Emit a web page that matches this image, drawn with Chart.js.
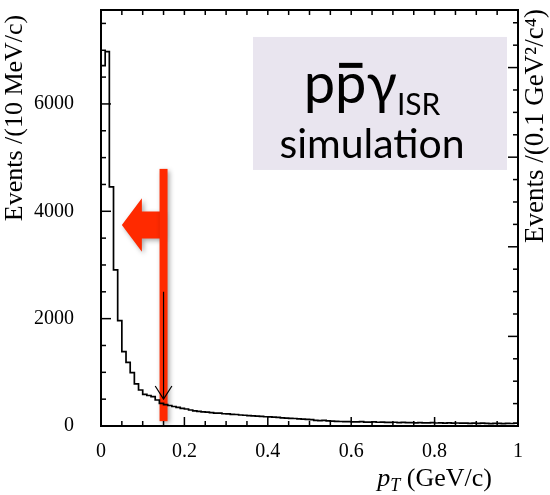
<!DOCTYPE html>
<html>
<head>
<meta charset="utf-8">
<script src="https://cdn.jsdelivr.net/npm/chart.js@4.4.1/dist/chart.umd.min.js"></script>
<style>
  html, body { margin: 0; padding: 0; background: #fff; }
  #wrap { width: 550px; height: 495px; }
</style>
</head>
<body>
<div id="wrap"><canvas id="ptChart" width="550" height="495"></canvas></div>
<script>
'use strict';

// ── Data ─────────────────────────────────────────────────────────────────────
// pT histogram, 10 MeV/c bins starting at 0
var binStart = 0;
var binWidth = 0.01;
var counts = [
  6713, 6974, 4453, 2907, 1962, 1384, 1187, 994, 783, 671,
  591, 568, 546, 484, 423, 400, 382, 363, 348, 330,
  317, 298, 280, 272, 265, 258, 250, 240, 238, 228,
  225, 218, 214, 205, 200, 193, 188, 184, 180, 172,
  170, 164, 160, 152, 148, 143, 140, 134, 128, 122,
  118, 104, 100, 104, 96, 92, 88, 84, 80, 82,
  78, 76, 80, 74, 72, 75, 70, 72, 68, 66,
  70, 64, 66, 62, 64, 60, 63, 60, 58, 62,
  56, 58, 55, 60, 54, 56, 52, 55, 50, 53,
  48, 52, 50, 46, 50, 48, 45, 50, 47, 52
];

// axis ranges and tick labels
var xRange = [0, 1];
var yRange = [0, 7750];
var y2Range = [0, 18.57];
var xTickLabels = [0, 0.2, 0.4, 0.6, 0.8, 1];
var yTickLabels = [0, 2000, 4000, 6000];

// annotations, in data units
var ptCut = 0.15;
var cutBarY = [90, 4790];
var leftArrow = { tipX: 0.05, headX: 0.098, y: 3745, headHalf: 500, shaftHalf: 250 };
var cutArrow = { fromY: 2500, toY: 500, armX: 0.02, armY: 245 };
var labelBox = { x: [0.3645, 0.9736], y: [4770, 7248] };
var labelLines = { x: 0.65, y1: 6020, y2: 4990 };

var SERIF = '"Liberation Serif", "Times New Roman", serif';
var SANS = 'Lato, "Open Sans", "Noto Sans", sans-serif';
var RED = 'rgb(255,42,0)';

// ── Histogram points (left bin edges + closing edge) ─────────────────────────
var histPoints = counts.map(function (v, i) {
  return { x: binStart + i * binWidth, y: v };
});
histPoints.push({ x: binStart + counts.length * binWidth, y: counts[counts.length - 1] });

// ── Frame + inward ticks on all four sides ───────────────────────────────────
var frameTicks = {
  id: 'frameTicks',
  afterDraw: function (chart) {
    var ctx = chart.ctx, a = chart.chartArea;
    var xs = chart.scales.x, ys = chart.scales.y, y2 = chart.scales.y2;
    ctx.save();
    ctx.strokeStyle = '#000';
    ctx.lineWidth = 1.5;
    var i, p, len;
    for (i = 0; i <= 20; i++) {
      p = xs.getPixelForValue(i * 0.05);
      len = (i % 4 === 0) ? 9 : 5;
      ctx.beginPath();
      ctx.moveTo(p, a.bottom); ctx.lineTo(p, a.bottom - len);
      ctx.moveTo(p, a.top); ctx.lineTo(p, a.top + 5);
      ctx.stroke();
    }
    for (i = 0; i * 500 <= yRange[1]; i++) {
      p = ys.getPixelForValue(i * 500);
      len = (i % 4 === 0) ? 10 : 5;
      ctx.beginPath();
      ctx.moveTo(a.left, p); ctx.lineTo(a.left + len, p);
      ctx.stroke();
    }
    for (i = 0; i <= y2Range[1]; i++) {
      p = y2.getPixelForValue(i);
      len = (i % 4 === 0) ? 10 : 5;
      ctx.beginPath();
      ctx.moveTo(a.right, p); ctx.lineTo(a.right - len, p);
      ctx.stroke();
    }
    ctx.lineWidth = 2;
    ctx.strokeRect(a.left, a.top, a.right - a.left, a.bottom - a.top);
    ctx.restore();
  }
};

// ── Axis titles ──────────────────────────────────────────────────────────────
var axisTitles = {
  id: 'axisTitles',
  afterDraw: function (chart) {
    var ctx = chart.ctx;
    ctx.save();
    ctx.fillStyle = '#000';
    ctx.font = '26px ' + SERIF;
    ctx.textAlign = 'center';
    ctx.textBaseline = 'middle';

    ctx.save();
    ctx.translate(15, 118);
    ctx.rotate(-Math.PI / 2);
    ctx.fillText('Events /(10 MeV/c)', 0, 0);
    ctx.restore();

    ctx.save();
    ctx.translate(536, 126);
    ctx.rotate(-Math.PI / 2);
    ctx.font = '27px ' + SERIF;
    ctx.fillText('Events /(0.1 GeV\u00B2/c\u2074)', 0, 0);
    ctx.restore();

    // p_T (GeV/c), right aligned to the frame
    ctx.textAlign = 'left';
    ctx.textBaseline = 'alphabetic';
    var rest = ' (GeV/c)';
    ctx.font = '26px ' + SERIF;
    var wRest = ctx.measureText(rest).width;
    ctx.font = 'italic 18px ' + SERIF;
    var wT = ctx.measureText('T').width;
    ctx.font = 'italic 26px ' + SERIF;
    var wP = ctx.measureText('p').width;
    var xEnd = 492, base = 486;
    var x0 = xEnd - wRest - wT - wP;
    ctx.fillText('p', x0, base);
    ctx.font = 'italic 18px ' + SERIF;
    ctx.fillText('T', x0 + wP, base + 5);
    ctx.font = '26px ' + SERIF;
    ctx.fillText(rest, x0 + wP + wT, base);
    ctx.restore();
  }
};

// ── Annotations: label box, cut bar, arrows ──────────────────────────────────
var annotations = {
  id: 'annotations',
  beforeDatasetsDraw: function (chart) {
    var ctx = chart.ctx, xs = chart.scales.x, ys = chart.scales.y;
    ctx.save();

    // lavender label box
    var bx0 = xs.getPixelForValue(labelBox.x[0]), bx1 = xs.getPixelForValue(labelBox.x[1]);
    var by0 = ys.getPixelForValue(labelBox.y[1]), by1 = ys.getPixelForValue(labelBox.y[0]);
    ctx.fillStyle = '#E9E5EF';
    ctx.fillRect(bx0, by0, bx1 - bx0, by1 - by0);

    // label text: p pbar gamma_ISR / simulation
    ctx.fillStyle = '#000';
    ctx.textBaseline = 'alphabetic';
    ctx.textAlign = 'left';
    var cx = xs.getPixelForValue(labelLines.x);
    var l1 = ys.getPixelForValue(labelLines.y1);
    var l2 = ys.getPixelForValue(labelLines.y2);
    ctx.font = '56px ' + SANS;
    var wp = ctx.measureText('p').width;
    var wg = ctx.measureText('\u03B3').width;
    ctx.font = '30px ' + SANS;
    var ws = ctx.measureText('ISR').width;
    var tx = cx - (2 * wp + wg + ws) / 2;
    ctx.font = '56px ' + SANS;
    ctx.fillText('p', tx, l1);
    ctx.fillText('p', tx + wp, l1);
    ctx.fillRect(tx + wp + 4, l1 - 40, wp - 8, 5);
    ctx.fillText('\u03B3', tx + 2 * wp, l1);
    ctx.font = '30px ' + SANS;
    ctx.fillText('ISR', tx + 2 * wp + wg, l1 + 12);
    ctx.font = '41px ' + SANS;
    ctx.textAlign = 'center';
    ctx.fillText('simulation', cx, l2);

    // red cut bar and left arrow, with soft shadow
    var bx = xs.getPixelForValue(ptCut);
    ctx.shadowColor = 'rgba(0,0,0,0.35)';
    ctx.shadowBlur = 5;
    ctx.shadowOffsetX = 2;
    ctx.shadowOffsetY = 2;
    ctx.fillStyle = RED;
    var ay = ys.getPixelForValue(leftArrow.y);
    var hTop = ys.getPixelForValue(leftArrow.y + leftArrow.headHalf);
    var hBot = ys.getPixelForValue(leftArrow.y - leftArrow.headHalf);
    var sTop = ys.getPixelForValue(leftArrow.y + leftArrow.shaftHalf);
    var sBot = ys.getPixelForValue(leftArrow.y - leftArrow.shaftHalf);
    var tipX = xs.getPixelForValue(leftArrow.tipX);
    var headX = xs.getPixelForValue(leftArrow.headX);
    ctx.beginPath();
    ctx.moveTo(tipX, ay);
    ctx.lineTo(headX, hTop);
    ctx.lineTo(headX, sTop);
    ctx.lineTo(bx, sTop);
    ctx.lineTo(bx, sBot);
    ctx.lineTo(headX, sBot);
    ctx.lineTo(headX, hBot);
    ctx.closePath();
    ctx.fill();
    var yTop = ys.getPixelForValue(cutBarY[1]), yBot = ys.getPixelForValue(cutBarY[0]);
    ctx.fillRect(bx - 4, yTop, 8, yBot - yTop);
    ctx.restore();
  },
  afterDatasetsDraw: function (chart) {
    var ctx = chart.ctx, xs = chart.scales.x, ys = chart.scales.y;
    var bx = xs.getPixelForValue(ptCut);
    var y0 = ys.getPixelForValue(cutArrow.fromY), y1 = ys.getPixelForValue(cutArrow.toY);
    var ya = ys.getPixelForValue(cutArrow.toY + cutArrow.armY);
    ctx.save();
    ctx.strokeStyle = '#000';
    ctx.lineWidth = 1.2;
    ctx.beginPath();
    ctx.moveTo(bx, y0); ctx.lineTo(bx, y1);
    ctx.moveTo(xs.getPixelForValue(ptCut - cutArrow.armX), ya);
    ctx.lineTo(bx, y1);
    ctx.lineTo(xs.getPixelForValue(ptCut + cutArrow.armX), ya);
    ctx.stroke();
    ctx.restore();
  }
};

// ── Chart ────────────────────────────────────────────────────────────────────
new Chart(document.getElementById('ptChart').getContext('2d'), {
  type: 'line',
  data: {
    datasets: [{
      label: 'pT',
      data: histPoints,
      stepped: true,
      borderColor: '#000',
      borderWidth: 1.7,
      pointRadius: 0,
      fill: false
    }]
  },
  options: {
    responsive: false,
    animation: false,
    layout: { padding: { top: 10, right: 32, left: 0, bottom: 0 } },
    plugins: {
      legend: { display: false },
      tooltip: { enabled: false }
    },
    scales: {
      x: {
        type: 'linear',
        min: xRange[0],
        max: xRange[1],
        grid: { display: false },
        border: { display: false },
        afterBuildTicks: function (s) { s.ticks = xTickLabels.map(function (v) { return { value: v }; }); },
        afterFit: function (s) { s.height = 69; s.paddingLeft = 0; s.paddingRight = 0; },
        ticks: {
          color: '#000',
          padding: 6,
          maxRotation: 0,
          autoSkip: false,
          font: { family: SERIF, size: 20 },
          callback: function (v) { return String(v); }
        }
      },
      y: {
        type: 'linear',
        min: yRange[0],
        max: yRange[1],
        grid: { display: false },
        border: { display: false },
        afterBuildTicks: function (s) { s.ticks = yTickLabels.map(function (v) { return { value: v }; }); },
        afterFit: function (s) { s.width = 101; s.paddingTop = 0; s.paddingBottom = 0; },
        ticks: {
          color: '#000',
          padding: 19,
          font: { family: SERIF, size: 20 },
          callback: function (v) { return String(v); }
        }
      },
      y2: {
        type: 'linear',
        position: 'right',
        display: false,
        min: y2Range[0],
        max: y2Range[1]
      }
    }
  },
  plugins: [annotations, frameTicks, axisTitles]
});
</script>
</body>
</html>
